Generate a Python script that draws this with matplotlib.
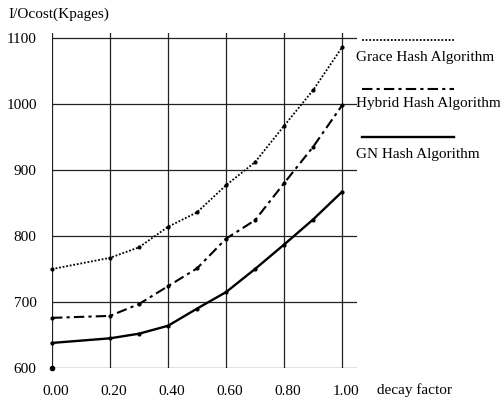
import matplotlib
matplotlib.use("Agg")
import matplotlib.pyplot as plt
import matplotlib.transforms as mtransforms
from matplotlib.lines import Line2D

plt.rcParams["font.family"] = ["Liberation Serif", "DejaVu Serif"]

decay = [0.0, 0.2, 0.3, 0.4, 0.5, 0.6, 0.7, 0.8, 0.9, 1.0]
grace = [750, 767, 783, 814, 836, 877, 912, 967, 1021, 1086]
hybrid = [676, 679, 697, 724, 751, 796, 824, 880, 935, 998]
gn = [638, 645, 652, 664, 690, 715, 750, 787, 825, 867]

x_ticks = [0.0, 0.2, 0.4, 0.6, 0.8, 1.0]
x_labels = ["0.00", "0.20", "0.40", "0.60", "0.80", "1.00"]
y_ticks = [600, 700, 800, 900, 1000, 1100]

series = [
    ("Grace Hash Algorithm", grace, (0, (1, 1)), 1.3),
    ("Hybrid Hash Algorithm", hybrid, (0, (5, 2, 1.5, 2)), 1.5),
    ("GN Hash Algorithm", gn, "-", 1.7),
]

fig = plt.figure(figsize=(5.0, 4.01), dpi=100)
ax = fig.add_axes([0.104, 0.0823, 0.609, 0.835])

for label, vals, ls, lw in series:
    ax.plot(decay, vals, color="black", linestyle=ls, linewidth=lw,
            marker="o", markersize=2, label=label, clip_on=False)

ax.set_xlim(0, 1.05)
ax.set_ylim(600, 1107.6)
ax.set_xticks(x_ticks)
ax.set_xticklabels(x_labels)
ax.set_yticks(y_ticks)
for s in ax.spines.values():
    s.set_visible(False)
ax.tick_params(length=0, labelsize=11)
ax.tick_params(axis="x", pad=12)
ax.tick_params(axis="y", pad=11)
ax.grid(True, color="#222222", linewidth=0.9)
ax.set_axisbelow(True)

# nudge the x tick labels a few pixels to the right
shift = mtransforms.ScaledTranslation(4 / 100, 0, fig.dpi_scale_trans)
for t in ax.get_xticklabels():
    t.set_transform(t.get_transform() + shift)

ax.plot([0], [600], "o", color="black", markersize=3, clip_on=False)

fig.text(8 / 500, 1 - 14 / 401, "I/Ocost(Kpages)", fontsize=11, va="center", ha="left")
fig.text(377 / 500, 1 - 390 / 401, "decay factor", fontsize=11, va="center", ha="left")

# hand-made legend: line sample with the label beneath it
legend_rows = [(40, 57), (89, 104), (137, 154)]
for (label, vals, ls, lw), (ly, ty) in zip(series, legend_rows):
    fig.add_artist(Line2D([362 / 500, 454 / 500], [1 - ly / 401, 1 - ly / 401],
                          color="black", linestyle=ls, linewidth=lw))
    fig.text(356 / 500, 1 - ty / 401, label, fontsize=11, va="center", ha="left")

fig.savefig("out.png", dpi=100)
